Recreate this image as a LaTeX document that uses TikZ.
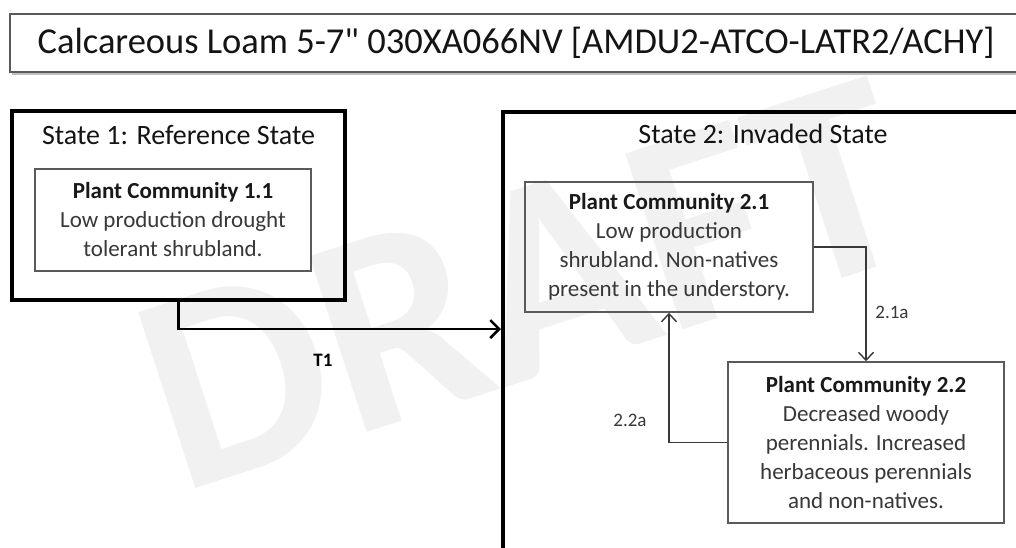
\documentclass[tikz,border=0pt]{standalone}
\usepackage{fontspec}
\setmainfont{Carlito}[Ligatures=TeXOff]
\usetikzlibrary{arrows.meta}
\definecolor{bodygray}{HTML}{383838}
\definecolor{boxgray}{HTML}{5A5A5A}
\definecolor{wmgray}{HTML}{F1F1F1}
\begin{document}
\begin{tikzpicture}[x=1pt,y=-1pt,
  titlebox/.style={draw=boxgray,line width=1.5pt,minimum width=1012pt,minimum height=58pt,inner sep=0pt},
  statebox/.style={draw=black,line width=4pt,inner sep=0pt},
  pcbox/.style={draw=boxgray,line width=1.5pt,inner sep=0pt,align=center,text=bodygray,
                font=\fontsize{23pt}{29pt}\selectfont},
  statetitle/.style={font=\fontsize{28pt}{32pt}\selectfont,text=black!92},
  tlabel/.style={font=\fontsize{19pt}{22pt}\selectfont,text=bodygray},
  bigarrow/.style={draw=black,line width=2.5pt,-{Straight Barb[length=9pt,width=18pt,line width=2.5pt]}},
  smallarrow/.style={draw=bodygray,line width=1.4pt,-{Straight Barb[length=8pt,width=15pt,line width=1.4pt]}},
]
\useasboundingbox (0,0) rectangle (1016,547);
\clip (0,0) rectangle (1016,547);
\fill[white] (0,0) rectangle (1016,547);
% watermark
\node[rotate=18,text=wmgray,font=\fontsize{285pt}{285pt}\selectfont\bfseries] (wm) at (525,284) {DRAFT};
% title
\draw[black!25,line width=1.5pt] (12,74) -- (1016,74);
\node[titlebox,font=\fontsize{36.5pt}{40pt}\selectfont,text=black!92] (title) at (516,43) {Calcareous Loam 5-7" 030XA066NV [AMDU2-ATCO-LATR2/ACHY]};
% state 1
\node[statebox,minimum width=333pt,minimum height=189pt] (s1) at (178.5,205.5) {};
\node[statetitle] (s1t) at (178.5,135) {State 1: Reference State};
\node[pcbox,minimum width=276pt,minimum height=102pt] (pc11) at (173,220)
  {{\bfseries\color{black!90}Plant Community 1.1}\\Low production drought\\tolerant shrubland.};
% state 2
\node[statebox,minimum width=537pt,minimum height=458pt] (s2) at (771.5,341) {};
\node[statetitle] (s2t) at (763,134) {State 2: Invaded State};
\node[pcbox,minimum width=288pt,minimum height=130pt] (pc21) at (669,247)
  {{\bfseries\color{black!90}Plant Community 2.1}\\Low production\\shrubland. Non-natives\\present in the understory.};
\node[pcbox,minimum width=276pt,minimum height=161pt] (pc22) at (866,442.5)
  {{\bfseries\color{black!90}Plant Community 2.2}\\Decreased woody\\perennials. Increased\\herbaceous perennials\\and non-natives.};
% transitions
\coordinate (t1end) at (501,329);
\draw[bigarrow] (s1.south) |- (t1end);
\node[font=\fontsize{19pt}{22pt}\selectfont\bfseries] (t1) at (323,360) {T1};
\draw[smallarrow] (pc21.east) -| (pc22.north);
\node[tlabel] (l21a) at (892,312) {2.1a};
\draw[smallarrow] (pc22.west) -| (pc21.south);
\node[tlabel] (l22a) at (630,420) {2.2a};
\end{tikzpicture}
\end{document}
